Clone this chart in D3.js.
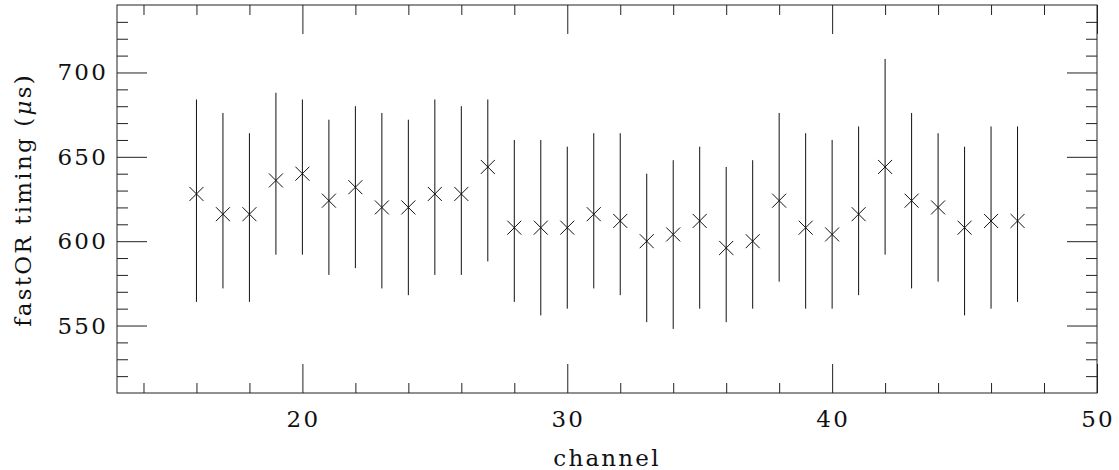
<!DOCTYPE html>
<html>
<head>
<meta charset="utf-8">
<script src="https://cdn.jsdelivr.net/npm/d3@7"></script>
<style>
  body { margin: 0; background: #fff; }
  text { font-family: "DejaVu Serif", serif; font-size: 23px; letter-spacing: 2.2px; fill: #111; }
</style>
</head>
<body>
<svg id="chart" width="1119" height="470"></svg>
<script>
// channel, measured timing and error bar bounds (µs)
var channels = [16, 17, 18, 19, 20, 21, 22, 23, 24, 25, 26, 27, 28, 29, 30, 31,
                32, 33, 34, 35, 36, 37, 38, 39, 40, 41, 42, 43, 44, 45, 46, 47];
var timing = [628, 616, 616, 636, 640, 624, 632, 620, 620, 628, 628, 644, 608, 608, 608, 616,
              612, 600, 604, 612, 596, 600, 624, 608, 604, 616, 644, 624, 620, 608, 612, 612];
var errHigh = [684, 676, 664, 688, 684, 672, 680, 676, 672, 684, 680, 684, 660, 660, 656, 664,
               664, 640, 648, 656, 644, 648, 676, 664, 660, 668, 708, 676, 664, 656, 668, 668];
var errLow = [564, 572, 564, 592, 592, 580, 584, 572, 568, 580, 580, 588, 564, 556, 560, 572,
              568, 552, 548, 560, 552, 560, 576, 560, 560, 568, 592, 572, 576, 556, 560, 564];

var xMajor = [20, 30, 40, 50];
var xMinor = [14, 16, 18, 22, 24, 26, 28, 32, 34, 36, 38, 42, 44, 46, 48];
var yMajor = [550, 600, 650, 700];
var yMinor = [520, 530, 540, 560, 570, 580, 590, 610, 620, 630, 640, 660, 670, 680, 690, 710, 720, 730];

var pLeft = 117, pRight = 1097, pTop = 5, pBottom = 393;

var svg = d3.select('#chart');

var x = d3.scaleLinear().domain([13, 50]).range([pLeft, pRight]);
var y = d3.scaleLinear().domain([510, 740]).range([pBottom, pTop]);

// frame
svg.append('rect')
  .attr('x', pLeft).attr('y', pTop)
  .attr('width', pRight - pLeft).attr('height', pBottom - pTop)
  .attr('fill', 'none').attr('stroke', '#222').attr('stroke-width', 1);

// inward ticks on all four sides
function ticks(axis, vals, size, tr) {
  var g = svg.append('g').attr('transform', tr)
    .call(axis.tickValues(vals).tickSize(-size).tickFormat(''));
  g.select('.domain').remove();
  g.selectAll('line').attr('stroke', '#222');
  return g;
}
ticks(d3.axisBottom(x), xMinor, 10, 'translate(0,' + pBottom + ')');
ticks(d3.axisBottom(x), xMajor, 29, 'translate(0,' + pBottom + ')');
ticks(d3.axisTop(x), xMinor, 10, 'translate(0,' + pTop + ')');
ticks(d3.axisTop(x), xMajor, 29, 'translate(0,' + pTop + ')');
ticks(d3.axisLeft(y), yMinor, 11, 'translate(' + pLeft + ',0)');
ticks(d3.axisLeft(y), yMajor, 30, 'translate(' + pLeft + ',0)');
ticks(d3.axisRight(y), yMinor, 11, 'translate(' + pRight + ',0)');
ticks(d3.axisRight(y), yMajor, 30, 'translate(' + pRight + ',0)');

// tick labels
svg.selectAll('.xl').data(xMajor).enter().append('text')
  .attr('x', function(d) { return x(d) + 1; })
  .attr('y', 427)
  .attr('text-anchor', 'middle')
  .text(function(d) { return d; });

svg.selectAll('.yl').data(yMajor).enter().append('text')
  .attr('x', 108)
  .attr('y', function(d) { return y(d) + 8; })
  .attr('text-anchor', 'end')
  .text(function(d) { return d; });

// axis titles
svg.append('text')
  .attr('x', (pLeft + pRight) / 2).attr('y', 466)
  .attr('text-anchor', 'middle')
  .text('channel');

svg.append('text')
  .attr('transform', 'translate(31,200) rotate(-90)')
  .attr('text-anchor', 'middle')
  .html('fastOR timing (<tspan font-style="italic">μ</tspan>s)');

// error bars
svg.selectAll('.err').data(channels).enter().append('line')
  .attr('x1', function(d) { return x(d); })
  .attr('x2', function(d) { return x(d); })
  .attr('y1', function(d, i) { return y(errLow[i]); })
  .attr('y2', function(d, i) { return y(errHigh[i]); })
  .attr('stroke', '#111').attr('stroke-width', 1);

// X markers
var s = 7;
svg.selectAll('.pt').data(channels).enter().append('path')
  .attr('d', function(d, i) {
    var cx = x(d), cy = y(timing[i]);
    return 'M' + (cx - s) + ',' + (cy - s) + 'L' + (cx + s) + ',' + (cy + s) +
           'M' + (cx - s) + ',' + (cy + s) + 'L' + (cx + s) + ',' + (cy - s);
  })
  .attr('stroke', '#111').attr('stroke-width', 1).attr('fill', 'none');
</script>
</body>
</html>
